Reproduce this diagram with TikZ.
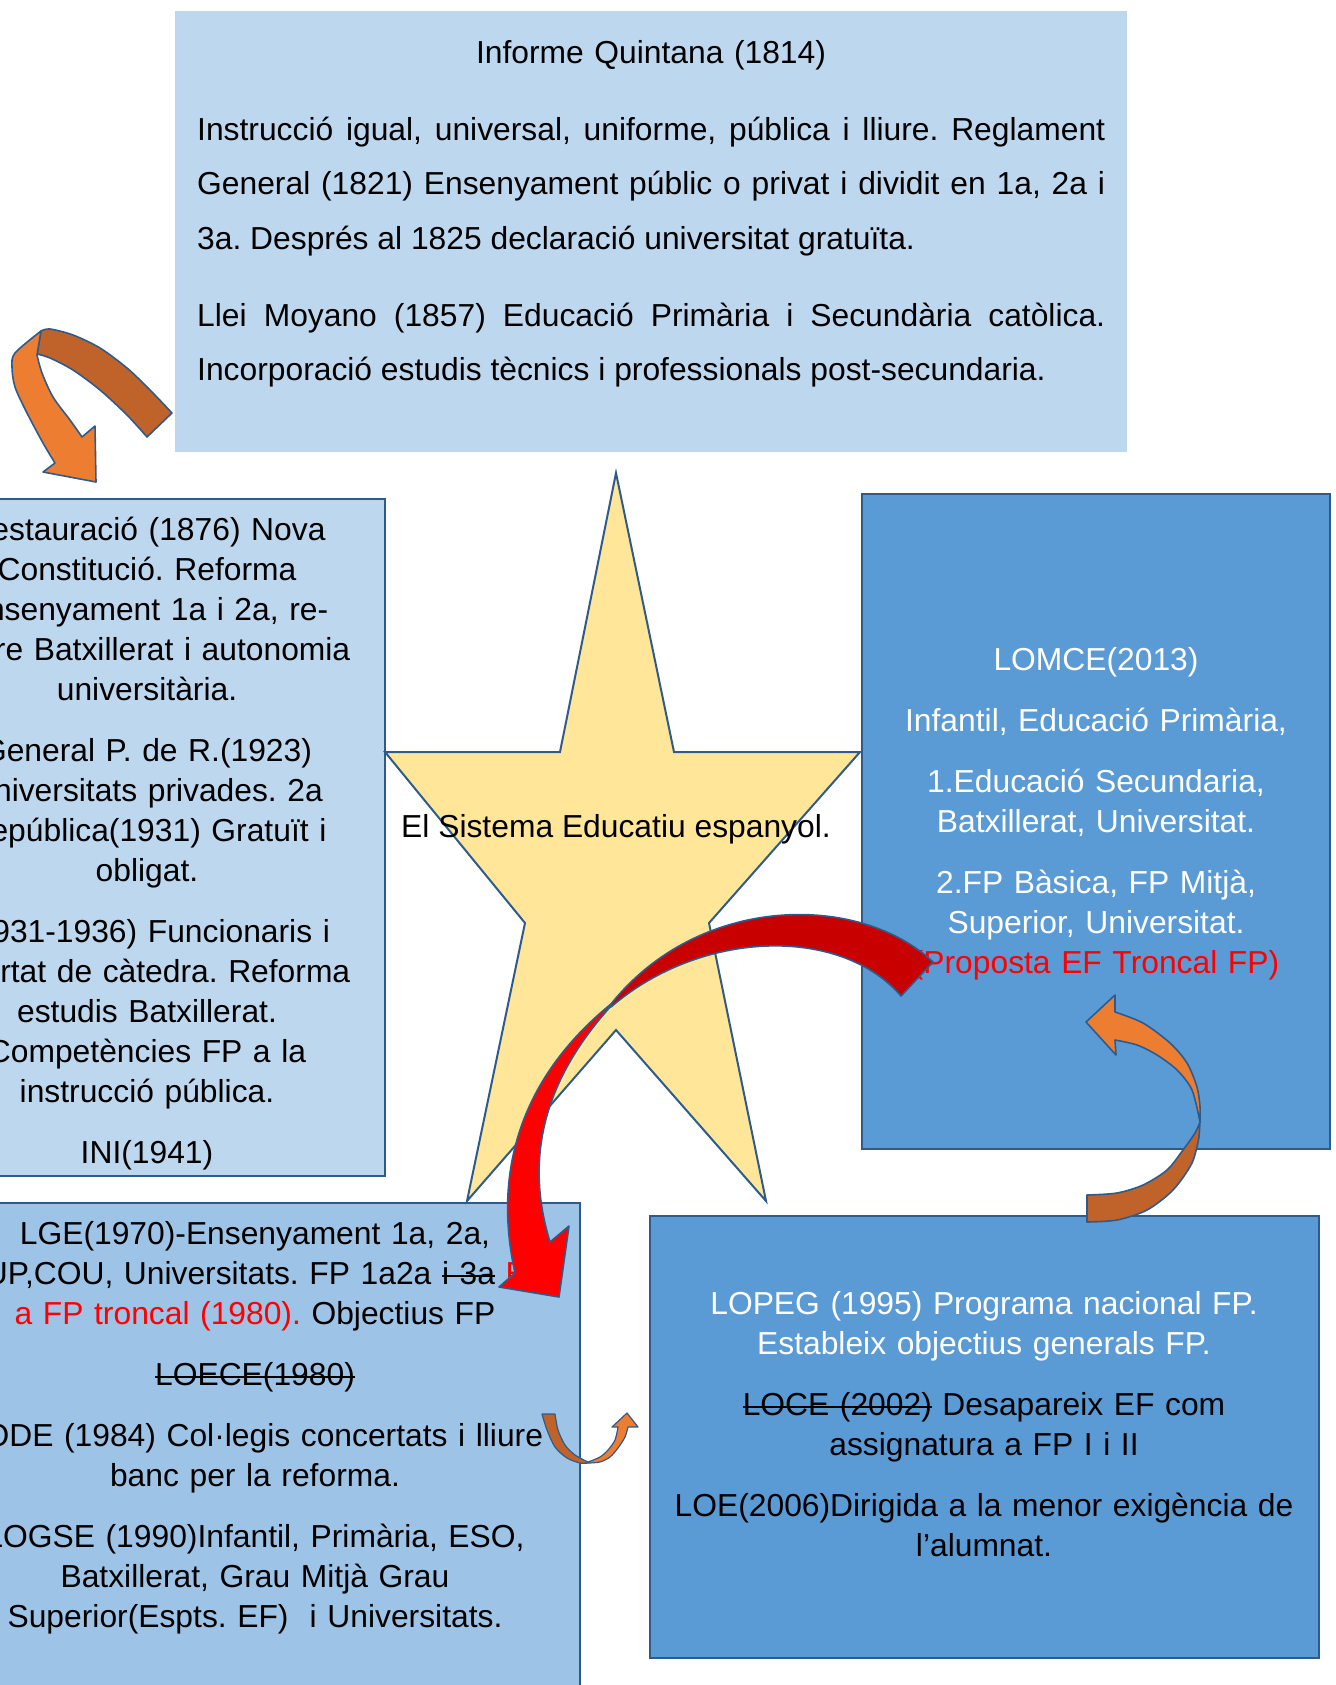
\documentclass[tikz,border=0pt]{standalone}
\usepackage{fontspec}
\setmainfont{Liberation Sans}
\usepackage{tikz}
\hyphenpenalty=10000
\exhyphenpenalty=10000
\frenchspacing

\definecolor{boxlight}{HTML}{BDD7EE}
\definecolor{boxmid}{HTML}{9DC3E6}
\definecolor{boxdark}{HTML}{5B9BD5}
\definecolor{edge}{HTML}{2F5B8C}
\definecolor{stargold}{HTML}{FFE699}
\definecolor{arrorange}{HTML}{ED7D31}
\definecolor{arrbrown}{HTML}{C0632A}
\definecolor{arrred}{HTML}{FF0000}
\definecolor{arrdarkred}{HTML}{C80000}

\newcommand{\firstline}{\rule{0pt}{30pt}}
\newsavebox{\strkbox}
\newcommand{\strk}[1]{\leavevmode\sbox{\strkbox}{#1}\rlap{\rule[7pt]{\wd\strkbox}{1.8pt}}\usebox{\strkbox}}

\begin{document}
\begin{tikzpicture}[x=1pt, y=-1pt,
  font=\fontsize{31.8}{40}\selectfont,
  box/.style={draw=edge, line width=2pt},
  txt/.style={inner sep=0pt, anchor=north, align=center, text width=#1},
  part/.style={draw=edge, line width=1.6pt, line join=round}]

\useasboundingbox (0,0) rectangle (1335,1685);
\clip (0,0) rectangle (1335,1685);

\fill[boxlight] (175,11) rectangle (1127,452);
\draw[box, fill=boxlight] (-91,499) rectangle (385,1176);
\draw[box, fill=boxdark] (862,494) rectangle (1330,1149);
\draw[box, fill=boxmid] (-69,1203) rectangle (580,1720);
\draw[box, fill=boxdark] (650,1216) rectangle (1319,1658);

\draw[box, fill=stargold] (616,473) -- (674,752) -- (860,752) -- (709,923) -- (766,1201) -- (616,1030)
  -- (467,1201) -- (525,923) -- (385,752) -- (560,752) -- cycle;
\node[anchor=base, inner sep=0pt] (star) at (616,837) {El Sistema Educatiu espanyol.};

\node[txt=600pt] (quintana) at (651,33) {\firstline Informe Quintana (1814)};
\node[txt=908pt, anchor=north west, align=justify, font=\fontsize{31.8}{54.5}\selectfont] (instruccio) at (197,110)
  {\firstline Instrucció igual, universal, uniforme, pública i lliure. Reglament\linebreak
  General (1821) Ensenyament públic o privat i dividit en 1a, 2a i\linebreak
  3a. Després al 1825 declaració universitat gratuïta.};
\node[txt=908pt, anchor=north west, align=justify, font=\fontsize{31.8}{54.5}\selectfont] (moyano) at (197,296)
  {\firstline Llei Moyano (1857) Educació Primària i Secundària catòlica.\linebreak
  Incorporació estudis tècnics i professionals post-secundaria.};

\node[txt=470pt] (restauracio) at (147,510) {\firstline Restauració (1876) Nova\\
  Constitució. Reforma\\
  Ensenyament 1a i 2a, re-\\
  sobre Batxillerat i autonomia\\
  universitària.\\[21pt]
  General P. de R.(1923)\\
  Universitats privades. 2a\\
  República(1931) Gratuït i\\
  obligat.\\[21pt]
  (1931-1936) Funcionaris i\\
  llibertat de càtedra. Reforma\\
  estudis Batxillerat.\\
  Competències FP a la\\
  instrucció pública.\\[21pt]
  INI(1941)};

\node[txt=440pt, text=white] (lomce) at (1096,640) {\firstline LOMCE(2013)\\[21pt]
  Infantil, Educació Primària,\\[21pt]
  1.Educació Secundaria,\\
  Batxillerat, Universitat.\\[21pt]
  2.FP Bàsica, FP Mitjà,\\
  Superior, Universitat.\\
  \textcolor{red}{(Proposta EF Troncal FP)}};

\node[txt=640pt] (lge) at (255,1214) {\firstline LGE(1970)-Ensenyament 1a, 2a,\\
  BUP,COU, Universitats. FP 1a2a \strk{i 3a} \textcolor{red}{EF}\\
  \textcolor{red}{a FP troncal (1980).} Objectius FP\\[21pt]
  \strk{LOECE(1980)}\\[21pt]
  LODE (1984) Col·legis concertats i lliure\\
  banc per la reforma.\\[21pt]
  LOGSE (1990)Infantil, Primària, ESO,\\
  Batxillerat, Grau Mitjà Grau\\
  Superior(Espts. EF)~~i Universitats.};

\node[txt=660pt] (lopeg) at (984,1284) {\firstline \textcolor{white}{LOPEG (1995) Programa nacional FP.}\\
  \textcolor{white}{Estableix objectius generals FP.}\\[21pt]
  \strk{LOCE (2002)} Desapareix EF com\\
  assignatura a FP I i II\\[21pt]
  LOE(2006)Dirigida a la menor exigència de\\
  l’alumnat.};

\draw[part, fill=arrbrown] plot[smooth] coordinates {(172,413) (150,390) (127,368) (100,348) (73,335) (50,329) (41,331)}
  -- plot[smooth] coordinates {(37,354) (50,358) (73,370) (100,390) (127,415) (147,437)} -- cycle;
\draw[part, fill=arrorange] plot[smooth] coordinates {(41,331) (15,353) (12,367) (15,387) (27,413) (43,443) (55,463)}
  -- (43,472) -- (96,482) -- (95,426)
  -- plot[smooth] coordinates {(82,437) (70,420) (53,397) (42,373) (37,355)} -- cycle;

\draw[part, fill=arrdarkred] (933,962) .. controls (860,893) and (700,893) .. (611,1004)
  -- (611,1007) .. controls (700,930) and (840,925) .. (901,996) -- cycle;
\draw[part, fill=arrred] (611,1004) .. controls (530,1070) and (490,1160) .. (515,1273)
  -- (499,1287) -- (559,1297) -- (569,1226) -- (550,1242)
  .. controls (528,1170) and (535,1090) .. (611,1006) -- cycle;

\draw[part, fill=arrbrown] plot[smooth] coordinates {(1087,1195) (1117,1193) (1143,1185) (1167,1170) (1183,1150) (1195,1133) (1200,1122)}
  -- plot[smooth] coordinates {(1199,1137) (1192,1163) (1173,1190) (1147,1210) (1117,1220) (1087,1222)} -- cycle;
\draw[part, fill=arrorange] plot[smooth] coordinates {(1200,1122) (1200,1107) (1197,1087) (1187,1063) (1170,1043) (1143,1023) (1115,1012)}
  -- (1115,995) -- (1086,1022) -- (1116,1055)
  -- plot[smooth] coordinates {(1115,1040) (1137,1045) (1157,1055) (1177,1070) (1192,1090) (1200,1122)} -- cycle;

\draw[part, line width=1.2pt, fill=arrbrown] plot[smooth] coordinates {(542,1414) (547,1430) (555,1447) (567,1458) (580,1463) (588,1463)}
  -- plot[smooth] coordinates {(588,1462) (575,1455) (565,1445) (558,1430) (555,1414)} -- cycle;
\draw[part, line width=1.2pt, fill=arrorange] plot[smooth] coordinates {(588,1463) (600,1462) (610,1457) (618,1448) (625,1437) (628,1427)}
  -- (638,1427) -- (627,1413) -- (612,1427)
  -- plot[smooth] coordinates {(618,1427) (615,1440) (608,1450) (600,1457) (588,1462)} -- cycle;

\end{tikzpicture}
\end{document}
